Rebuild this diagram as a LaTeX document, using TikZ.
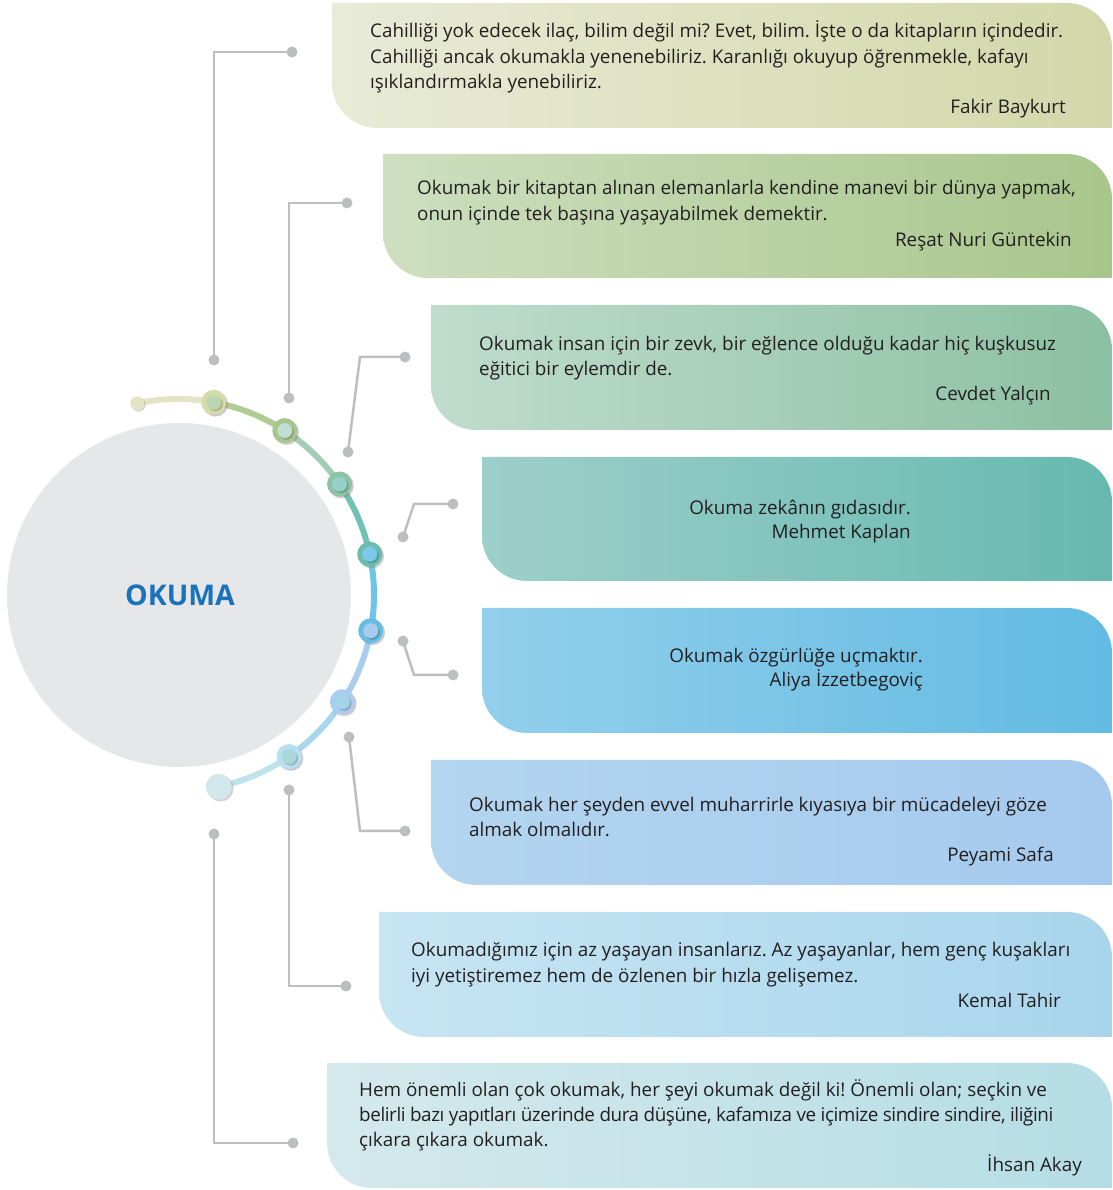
\documentclass[tikz,border=0pt]{standalone}
\usepackage{fontspec}
\setmainfont{Open Sans}
\frenchspacing
\definecolor{txtc}{HTML}{231F20}
\definecolor{conc}{HTML}{BCBEC0}
\definecolor{circc}{HTML}{E6E7E8}
\definecolor{okc}{HTML}{1A72BB}
\definecolor{b1l}{HTML}{E8EBD6}\definecolor{b1r}{HTML}{D3D7A9}
\definecolor{b2l}{HTML}{CDDFC0}\definecolor{b2r}{HTML}{A8C68C}
\definecolor{b3l}{HTML}{C0DCCE}\definecolor{b3r}{HTML}{8CC0A2}
\definecolor{b4l}{HTML}{9ECFCA}\definecolor{b4r}{HTML}{66B9B0}
\definecolor{b5l}{HTML}{93CFEC}\definecolor{b5r}{HTML}{62BBE2}
\definecolor{b6l}{HTML}{B3D5EF}\definecolor{b6r}{HTML}{A5CAEE}
\definecolor{b7l}{HTML}{C7E5F3}\definecolor{b7r}{HTML}{A8D5EC}
\definecolor{b8l}{HTML}{D4E9EC}\definecolor{b8r}{HTML}{B5DDE5}
\definecolor{s0}{HTML}{E2E4C4}\definecolor{s1}{HTML}{B0CB93}
\definecolor{s2}{HTML}{A0CDB4}\definecolor{s3}{HTML}{71C1B6}
\definecolor{s4}{HTML}{6EC4E6}\definecolor{s5}{HTML}{A9CDEE}
\definecolor{s6}{HTML}{A5D6EE}\definecolor{s7}{HTML}{C0E3EA}
\definecolor{endc}{HTML}{D2E8EC}
\definecolor{o1}{HTML}{D7DBA9}\definecolor{i1}{HTML}{BCD6B4}
\definecolor{o2}{HTML}{A6C68D}\definecolor{i2}{HTML}{C2DDD1}
\definecolor{o3}{HTML}{8DC3A3}\definecolor{i3}{HTML}{94D0CC}
\definecolor{o4}{HTML}{6CBCAD}\definecolor{i4}{HTML}{7CC8EA}
\definecolor{o5}{HTML}{66BDE4}\definecolor{i5}{HTML}{A8CBEE}
\definecolor{o6}{HTML}{AACDEF}\definecolor{i6}{HTML}{A2D5EA}
\definecolor{o7}{HTML}{B8E0F1}\definecolor{i7}{HTML}{A9D8DA}
\newcommand\leafbox[6]{%
  \shade[left color=#5, right color=#6] (#1,#4) -- ({#3-45},#4)
    arc[start angle=90,end angle=0,radius=45pt] -- (#3,#2) -- ({#1+45},#2)
    arc[start angle=270,end angle=180,radius=45pt] -- cycle;}
\newcommand\arcseg[4]{%
  \draw[line width=6pt,#4] (ctr) ++(#1:196pt) arc[start angle=#1,end angle=#2,radius=196pt];}
\newcommand\ringdot[3]{%
  \fill[black!45,opacity=0.45] ($(#1)+(1.8pt,-1.8pt)$) circle[radius=12.5pt];
  \fill[#2] (#1) circle[radius=12.5pt];
  \fill[#2!70!black,opacity=0.6] ($(#1)+(1.6pt,-1.6pt)$) circle[radius=7.5pt];
  \fill[#3] (#1) circle[radius=7.5pt];}
\usetikzlibrary{calc}
\begin{document}
\begin{tikzpicture}[x=1pt,y=1pt,
  txt/.style={inner sep=0pt,text=txtc,font=\fontsize{18.85}{22}\selectfont},
  lq/.style={txt,anchor=base west},
  rq/.style={txt,anchor=base east},
  conn/.style={draw=conc,line width=2.5pt}]
\useasboundingbox (0,0) rectangle (1112,1190);
% boxes
\leafbox{332}{1062}{1112}{1187}{b1l}{b1r}
\leafbox{383}{912}{1112}{1036}{b2l}{b2r}
\leafbox{431}{760}{1112}{885}{b3l}{b3r}
\leafbox{482}{609}{1112}{733}{b4l}{b4r}
\leafbox{482}{457}{1112}{582}{b5l}{b5r}
\leafbox{431}{305}{1112}{430}{b6l}{b6r}
\leafbox{379}{153}{1112}{278}{b7l}{b7r}
\leafbox{327}{2}{1112}{127}{b8l}{b8r}
% central circle
\node[circle,fill=circc,minimum size=344pt,inner sep=0pt] (hub) at (179,595) {};
\node[font=\fontsize{28.5}{30}\selectfont\bfseries,text=okc] (title) at (180,595) {OKUMA};
% arc
\coordinate (ctr) at (178,595);
\arcseg{102}{79.5}{}{s0}
\arcseg{79.5}{57}{}{s1}
\arcseg{57}{34.5}{}{s2}
\arcseg{34.5}{12}{}{s3}
\arcseg{12}{-10.5}{}{s4}
\arcseg{-10.5}{-33}{}{s5}
\arcseg{-33}{-55.5}{}{s6}
\arcseg{-55.5}{-78}{}{s7}
\path (ctr) ++(102:196pt) coordinate (as);
\path (ctr) ++(-78:196pt) coordinate (ae);
\path (ctr) ++(79.5:196pt) coordinate (d1);
\path (ctr) ++(57:196pt) coordinate (d2);
\path (ctr) ++(34.5:196pt) coordinate (d3);
\path (ctr) ++(12:196pt) coordinate (d4);
\path (ctr) ++(-10.5:196pt) coordinate (d5);
\path (ctr) ++(-33:196pt) coordinate (d6);
\path (ctr) ++(-55.5:196pt) coordinate (d7);
\fill[black!45,opacity=0.4] ($(as)+(1.2pt,-1.2pt)$) circle[radius=7pt];
\fill[s0] (as) circle[radius=7pt];
\fill[black!45,opacity=0.4] ($(ae)+(1.8pt,-1.8pt)$) circle[radius=13pt];
\fill[endc] (ae) circle[radius=13pt];
\ringdot{d1}{o1}{i1}
\ringdot{d2}{o2}{i2}
\ringdot{d3}{o3}{i3}
\ringdot{d4}{o4}{i4}
\ringdot{d5}{o5}{i5}
\ringdot{d6}{o6}{i6}
\ringdot{d7}{o7}{i7}
% connectors
\coordinate (c1a) at (214,830); \coordinate (c1b) at (214,1138); \coordinate (c1c) at (292,1138);
\coordinate (c2a) at (289,792); \coordinate (c2b) at (289,987); \coordinate (c2c) at (347,987);
\coordinate (c3a) at (348,738); \coordinate (c3b) at (360,833); \coordinate (c3c) at (405,833);
\coordinate (c4a) at (403,653); \coordinate (c4b) at (414,686); \coordinate (c4c) at (453,686);
\coordinate (c5a) at (403,549); \coordinate (c5b) at (414,515); \coordinate (c5c) at (453,515);
\coordinate (c6a) at (349,453); \coordinate (c6b) at (360,359); \coordinate (c6c) at (405,359);
\coordinate (c7a) at (289,400); \coordinate (c7b) at (289,204); \coordinate (c7c) at (346,204);
\coordinate (c8a) at (214,356); \coordinate (c8b) at (214,47); \coordinate (c8c) at (293,47);
\foreach \i in {1,...,8}{
  \draw[conn] (c\i a) -- (c\i b) -- (c\i c);
  \fill[conc] (c\i a) circle[radius=5.5pt];
  \fill[conc] (c\i c) circle[radius=5.5pt];
}
% texts
\node[lq] (q1a) at (370,1152) {Cahilliği yok edecek ilaç, bilim değil mi? Evet, bilim. İşte o da kitapların içindedir.};
\node[lq] (q1b) at (370,1126) {Cahilliği ancak okumakla yenenebiliriz. Karanlığı okuyup öğrenmekle, kafayı};
\node[lq] (q1c) at (370,1101) {ışıklandırmakla yenebiliriz.};
\node[rq] (q1d) at (1066,1076) {Fakir Baykurt};
\node[lq] (q2a) at (417,995) {Okumak bir kitaptan alınan elemanlarla kendine manevi bir dünya yapmak,};
\node[lq] (q2b) at (417,969) {onun içinde tek başına yaşayabilmek demektir.};
\node[rq] (q2c) at (1072,943) {Reşat Nuri Güntekin};
\node[lq] (q3a) at (479,839) {Okumak insan için bir zevk, bir eğlence olduğu kadar hiç kuşkusuz};
\node[lq] (q3b) at (479,814) {eğitici bir eylemdir de.};
\node[rq] (q3c) at (1051,789) {Cevdet Yalçın};
\node[rq] (q4a) at (911,675) {Okuma zekânın gıdasıdır.};
\node[rq] (q4b) at (911,651) {Mehmet Kaplan};
\node[rq] (q5a) at (923,527) {Okumak özgürlüğe uçmaktır.};
\node[rq] (q5b) at (923,503) {Aliya İzzetbegoviç};
\node[lq] (q6a) at (469,378) {Okumak her şeyden evvel muharrirle kıyasıya bir mücadeleyi göze};
\node[lq] (q6b) at (469,353) {almak olmalıdır.};
\node[rq] (q6c) at (1054,328) {Peyami Safa};
\node[lq] (q7a) at (411,233) {Okumadığımız için az yaşayan insanlarız. Az yaşayanlar, hem genç kuşakları};
\node[lq] (q7b) at (411,207) {iyi yetiştiremez hem de özlenen bir hızla gelişemez.};
\node[rq] (q7c) at (1061,182) {Kemal Tahir};
\node[lq] (q8a) at (359,93) {Hem önemli olan çok okumak, her şeyi okumak değil ki! Önemli olan; seçkin ve};
\node[lq,font=\fontsize{18.85}{22}\selectfont\addfontfeature{LetterSpace=-2.2}] (q8b) at (359,68) {belirli bazı yapıtları üzerinde dura düşüne, kafamıza ve içimize sindire sindire, iliğini};
\node[lq] (q8c) at (359,43) {çıkara çıkara okumak.};
\node[rq] (q8d) at (1082,18) {İhsan Akay};
\end{tikzpicture}
\end{document}
